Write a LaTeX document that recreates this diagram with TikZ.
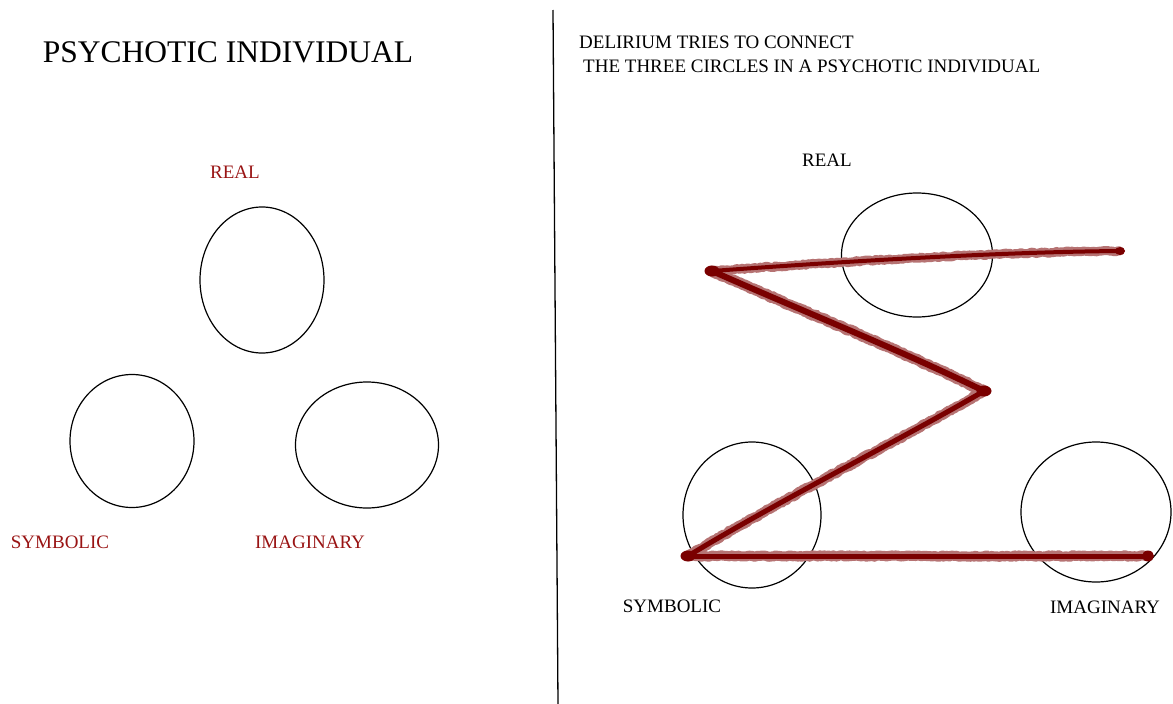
\documentclass[tikz,border=0pt]{standalone}
\usepackage{fontspec}
\setmainfont{Liberation Serif}
\usepackage{tikz}
\usetikzlibrary{shapes.geometric, decorations.pathmorphing, positioning}
\definecolor{labelred}{HTML}{991414}
\definecolor{deliriumred}{HTML}{7A0000}

\begin{document}
\begin{tikzpicture}[x=1pt, y=-1pt,
    ring/.style={draw, ellipse, line width=1.2pt, inner sep=0pt},
    tag/.style={text=#1, font=\fontsize{19}{22}\selectfont, inner sep=0pt},
    haze/.style={draw=deliriumred!55, line width=#1, line join=round, line cap=round,
        decorate, decoration={random steps, segment length=2pt, amplitude=0.8pt}},
    scribble/.style={draw=deliriumred, line width=#1, line join=round, line cap=round},
    blot/.style={fill=deliriumred, ellipse, inner sep=0pt, minimum width=15pt, minimum height=11pt}
]
\useasboundingbox (0,0) rectangle (1173,704);

\node[font=\fontsize{31.5}{36}\selectfont] (title) at (228,52) {PSYCHOTIC INDIVIDUAL};
\node[ring, minimum width=124pt, minimum height=146pt] (lreal) at (262,280) {};
\node[ring, minimum width=124pt, minimum height=133pt] (lsym) at (132,441) {};
\node[ring, minimum width=143pt, minimum height=126pt] (limag) at (367,445) {};
\node[tag=labelred] (lreallab) at (235,172) {REAL};
\node[tag=labelred] (lsymlab) at (60,542) {SYMBOLIC};
\node[tag=labelred] (limaglab) at (310,542) {IMAGINARY};

\coordinate (divtop) at (553,10);
\coordinate (divbot) at (558,704);
\draw[line width=1.3pt] (divtop) -- (divbot);

\node[font=\fontsize{19}{24}\selectfont, align=left, anchor=north west, inner sep=0pt] (caption) at (579,36)
    {DELIRIUM TRIES TO CONNECT\\\hspace{4pt}THE THREE CIRCLES IN A PSYCHOTIC INDIVIDUAL};

\node[ring, minimum width=151pt, minimum height=124pt] (rreal) at (917,255) {};
\node[ring, minimum width=138pt, minimum height=146pt] (rsym) at (752,515) {};
\node[ring, minimum width=150pt, minimum height=140pt] (rimag) at (1096,512) {};
\node[tag=black] (rreallab) at (827,160) {REAL};
\node[tag=black] (rsymlab) at (672,606) {SYMBOLIC};
\node[tag=black] (rimaglab) at (1105,607) {IMAGINARY};

\coordinate (d0) at (1120,251);
\coordinate (d1) at (712,271);
\coordinate (d2) at (984,391);
\coordinate (d3) at (688,556);
\coordinate (d4) at (1148,556);
\draw[haze=9pt] (d0) .. controls (1000,252) and (850,261) .. (d1);
\draw[haze=11pt] (d1) .. controls (800,310) and (900,350) .. (d2);
\draw[haze=10pt] (d2) .. controls (900,440) and (780,500) .. (d3);
\draw[haze=10pt] (d3) -- (d4);
\draw[scribble=4pt] (d0) .. controls (1000,252) and (850,261) .. (d1);
\draw[scribble=6pt] (d1) .. controls (800,310) and (900,350) .. (d2);
\draw[scribble=5pt] (d2) .. controls (900,440) and (780,500) .. (d3);
\draw[scribble=5pt] (d3) -- (d4);
\node[blot] (b1) at (d1) {};
\node[blot] (b2) at (d2) {};
\node[blot] (b3) at (d3) {};
\node[blot, minimum width=12pt] (b4) at (d4) {};
\node[blot, minimum width=10pt, minimum height=8pt] (b0) at (d0) {};
\end{tikzpicture}
\end{document}
